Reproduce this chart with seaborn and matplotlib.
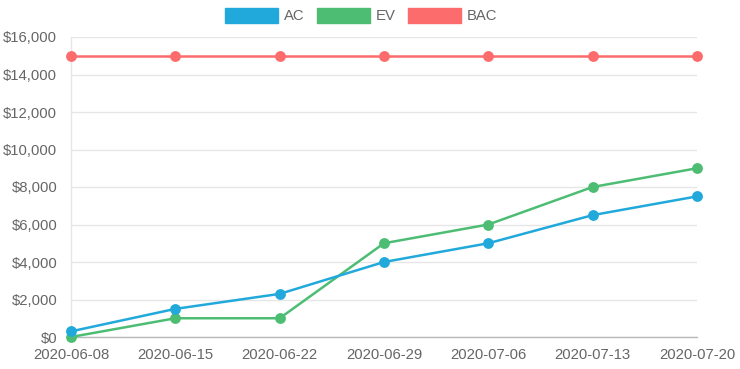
import matplotlib
matplotlib.use("Agg")
import matplotlib.pyplot as plt
from matplotlib.patches import Patch
from matplotlib.ticker import FuncFormatter
import pandas as pd
import seaborn as sns

# data
dates = ["2020-06-08", "2020-06-15", "2020-06-22", "2020-06-29",
         "2020-07-06", "2020-07-13", "2020-07-20"]
ac = [300, 1500, 2300, 4000, 5000, 6500, 7500]
ev = [0, 1000, 1000, 5000, 6000, 8000, 9000]
bac = [15000, 15000, 15000, 15000, 15000, 15000, 15000]

series = ["AC", "EV", "BAC"]
colors = {"AC": "#22a9db", "EV": "#4dbd74", "BAC": "#fc6c6c"}

rows = []
for name, vals in zip(series, [ac, ev, bac]):
    for i, v in enumerate(vals):
        rows.append({"x": i, "value": v, "series": name})
df = pd.DataFrame(rows)

sns.set_theme(style="white")
plt.rcParams["font.family"] = ["Liberation Sans", "DejaVu Sans"]

fig = plt.figure(figsize=(7.4, 3.69), dpi=100)
ax = fig.add_axes([71 / 740, 1 - 337 / 369, (697 - 71) / 740, 300 / 369])

# draw BAC first, AC last so AC sits on top
for name in ["BAC", "EV", "AC"]:
    sns.lineplot(data=df[df["series"] == name], x="x", y="value",
                 color=colors[name], marker="o", markersize=7.8,
                 markeredgewidth=0, linewidth=1.8, ax=ax, legend=False,
                 clip_on=False, zorder=3)

ax.set_xlim(0, len(dates) - 1)
ax.set_ylim(0, 16000)
ax.set_xticks(range(len(dates)))
ax.set_xticklabels(dates)
ax.set_yticks(range(0, 16001, 2000))
ax.yaxis.set_major_formatter(FuncFormatter(lambda v, p: f"${v:,.0f}"))
ax.set_xlabel("")
ax.set_ylabel("")

ax.grid(axis="y", color="#e6e6e6", linewidth=1)
ax.grid(axis="x", visible=False)
for s in ["top", "right"]:
    ax.spines[s].set_visible(False)
ax.spines["left"].set_color("#e6e6e6")
ax.spines["left"].set_linewidth(1)
ax.spines["bottom"].set_color("#b8b8b8")
ax.spines["bottom"].set_linewidth(1)

ax.tick_params(axis="both", labelsize=10.7, labelcolor="#666666",
               length=7, width=1, color="#e6e6e6", pad=2)
ax.tick_params(axis="x", pad=1)
ax.tick_params(axis="y", pad=3)

handles = [Patch(facecolor=colors[n], edgecolor=colors[n], label=n) for n in series]
leg = fig.legend(handles=handles, loc="center", bbox_to_anchor=(0.488, 0.957),
                 ncol=3, frameon=False, fontsize=10.7, handlelength=3.55,
                 handleheight=1.1, handletextpad=0.4, columnspacing=0.85)
for t in leg.get_texts():
    t.set_color("#666666")

fig.savefig("out.png", dpi=100)
